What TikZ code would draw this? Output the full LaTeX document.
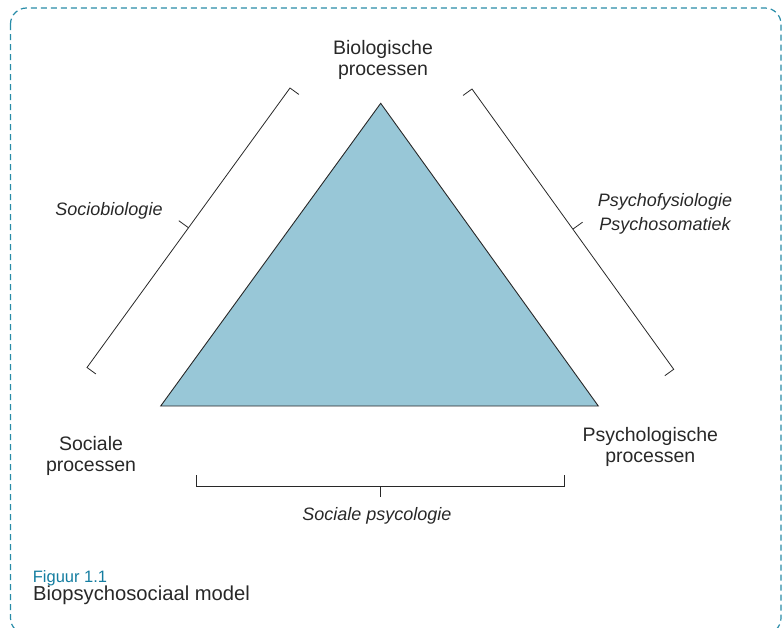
\documentclass[tikz,border=0pt]{standalone}
\usepackage{fontspec}
\setmainfont{Liberation Sans}
\usetikzlibrary{calc}
\definecolor{trifill}{RGB}{152,199,215}
\definecolor{ink}{RGB}{40,40,40}
\definecolor{framecol}{RGB}{40,140,168}
\definecolor{capcol}{RGB}{20,125,160}
\begin{document}
\begin{tikzpicture}[x=1pt,y=-1pt,
  lbl/.style={text=ink, align=center, inner sep=0pt, anchor=base,
    font=\fontsize{19.5}{21}\selectfont},
  ital/.style={text=ink, align=center, inner sep=0pt, anchor=base,
    font=\fontsize{18}{23.3}\selectfont\itshape},
  brk/.style={draw=ink, line width=0.8pt, line join=miter},
]
\useasboundingbox (0,0) rectangle (782,627);
\clip (0,0) rectangle (782,627);

% dashed frame
\draw[framecol, line width=1.2pt, dash pattern=on 6pt off 4pt,
  rounded corners=16pt] (10.5,8) rectangle (781,634);

% triangle
\coordinate (apex) at (380.7,103.3);
\coordinate (bl) at (160.7,406);
\coordinate (br) at (598.3,406);
\draw[fill=trifill, draw=ink, line width=0.9pt] (apex) -- (bl) -- (br) -- cycle;

% left bracket
\coordinate (la) at (290,88);
\coordinate (lb) at (87,367.5);
\coordinate (lm) at ($(la)!0.5!(lb)$);
\draw[brk] ($(la)!11pt!90:(lb)$) -- (la) -- (lb) -- ($(lb)!11pt!-90:(la)$);
\draw[brk] (lm) -- ($(lm)!12pt!-90:(lb)$);

% right bracket
\coordinate (ra) at (472,89);
\coordinate (rb) at (673.7,369.3);
\coordinate (rm) at ($(ra)!0.5!(rb)$);
\draw[brk] ($(ra)!11pt!-90:(rb)$) -- (ra) -- (rb) -- ($(rb)!11pt!90:(ra)$);
\draw[brk] (rm) -- ($(rm)!12pt!90:(rb)$);

% bottom bracket
\coordinate (ba) at (196.7,486);
\coordinate (bb) at (564,486);
\coordinate (bm) at ($(ba)!0.5!(bb)$);
\draw[brk] ($(ba)+(0,-11)$) -- (ba) -- (bb) -- ($(bb)+(0,-11)$);
\draw[brk] (bm) -- ($(bm)+(0,11)$);

% corner labels (placed at the baseline of their last line)
\node[lbl] (bio) at (383,75) {Biologische\\processen};
\node[lbl] (soc) at (91,471) {Sociale\\processen};
\node[lbl] (psy) at (650.3,462.7) {Psychologische\\processen};

% bracket labels
\node[ital] (sbio) at (109,215) {Sociobiologie};
\node[ital] (pfys) at (665,230) {Psychofysiologie\\Psychosomatiek};
\node[ital] (spsy) at (377,520) {Sociale psycologie};

% caption
\node[text=capcol, inner sep=0pt, anchor=base west, text depth=0pt,
  font=\fontsize{16.5}{18}\selectfont] (fig) at (32.7,582) {Figuur 1.1};
\node[text=ink, inner sep=0pt, anchor=base west,
  font=\fontsize{20.2}{22}\selectfont] (title) at (33,600.5) {Biopsychosociaal model};
\end{tikzpicture}
\end{document}
